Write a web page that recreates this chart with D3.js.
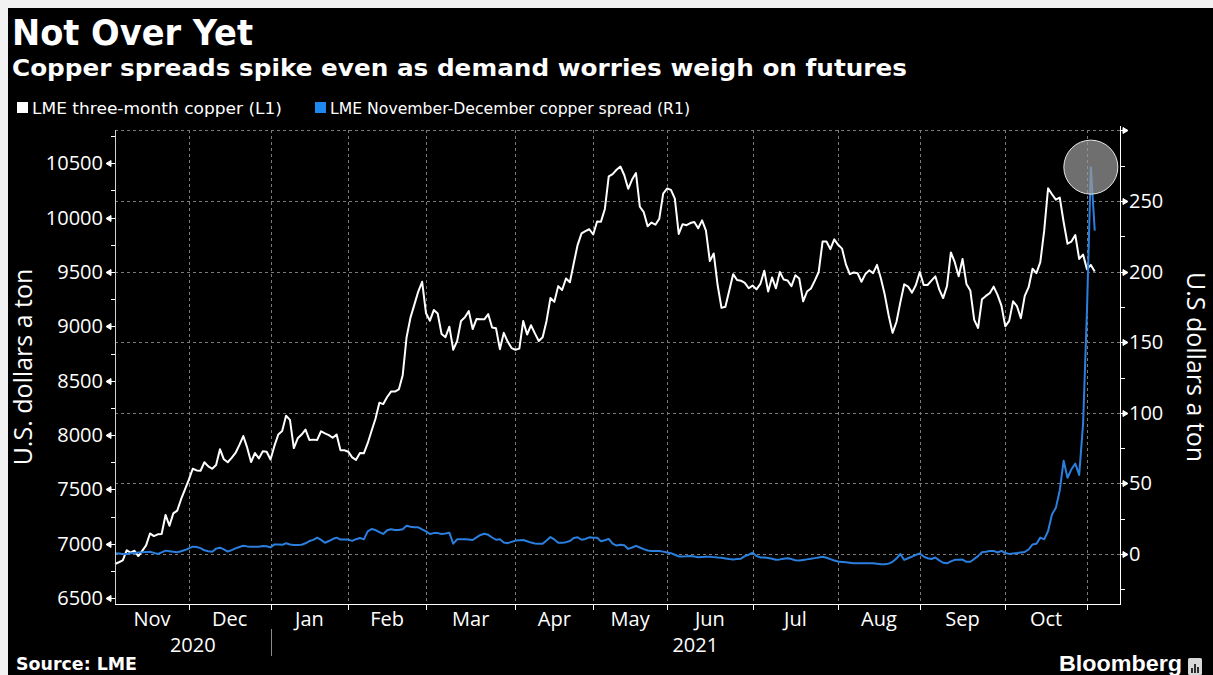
<!DOCTYPE html>
<html>
<head>
<meta charset="utf-8">
<script src="https://cdn.jsdelivr.net/npm/d3@7"></script>
<style>
  body { margin: 0; background: #f2f2f2; }
  svg { display: block; }
</style>
</head>
<body>
<svg id="chart"></svg>
<script>
// LME three-month copper, USD/ton, one value per trading day (4 Nov 2020 .. 3 Nov 2021)
var copper = [
  6814, 6830, 6848, 6940, 6918, 6936, 6887, 6935, 6985, 7095,
  7071, 7087, 7090, 7265, 7166, 7280, 7305, 7410, 7500, 7590,
  7690, 7675, 7672, 7750, 7712, 7690, 7724, 7870, 7777, 7750,
  7790, 7835, 7910, 7991, 7884, 7752, 7835, 7785, 7850, 7847,
  7775, 7900, 8005, 8037, 8178, 8140, 7880, 7970, 8005, 8050,
  7955, 7958, 7955, 8035, 8015, 8000, 7975, 8005, 7860, 7860,
  7847, 7795, 7772, 7835, 7832, 7925, 8040, 8150, 8298, 8285,
  8350, 8400, 8400, 8420, 8550, 8900, 9080, 9200, 9320, 9410,
  9120, 9052, 9150, 9118, 8930, 8900, 8997, 8785, 8865, 9050,
  9083, 9140, 8975, 9068, 9066, 9065, 9112, 8990, 8982, 8790,
  8940, 8860, 8800, 8785, 8795, 9050, 8925, 9010, 8935, 8865,
  8900, 9050, 9260, 9225, 9370, 9334, 9440, 9405, 9580, 9750,
  9855, 9875, 9893, 9845, 9965, 9963, 10080, 10380, 10400, 10440,
  10470, 10390, 10265, 10350, 10410, 10100, 10050, 9920, 9955, 9935,
  9990, 10220, 10268, 10255, 10175, 9850, 9940, 9930, 9950, 9960,
  9902, 9975, 9880, 9600, 9670, 9380, 9170, 9180, 9330, 9480,
  9426, 9420, 9400, 9350, 9375, 9340, 9390, 9512, 9320, 9450,
  9350, 9500, 9430, 9422, 9370, 9470, 9440, 9230, 9320, 9348,
  9420, 9500, 9780, 9780, 9710, 9800, 9750, 9715, 9570, 9480,
  9495, 9488, 9410, 9480, 9515, 9490, 9565, 9440, 9290, 9100,
  8940, 9040, 9220, 9387, 9365, 9310, 9380, 9500, 9380, 9380,
  9420, 9460, 9340, 9260, 9370, 9680, 9590, 9460, 9620, 9390,
  9330, 9060, 8985, 9250, 9280, 9305, 9365, 9290, 9190, 9000,
  9050, 9230, 9185, 9075, 9280, 9360, 9530, 9490, 9590, 9880,
  10270, 10215, 10165, 10185, 9960, 9760, 9780, 9840, 9620, 9660,
  9525, 9565, 9505
];

// LME November-December copper spread, USD/ton, same trading days
var spread = [
  0.5, 0.3, 0, 0, 0.5, 0.8, 1, 1.2, 1.5, 1.6,
  0.8, 0, 1.2, 2.4, 2, 1.6, 1.2, 2, 2.8, 4,
  5.2, 5, 4.2, 2.6, 2, 1.6, 3.8, 4.5, 3.3, 1.7,
  2.8, 4, 5, 5.9, 5.4, 5.2, 5.2, 5.2, 5.7, 5.5,
  4.7, 6.8, 6.8, 6.5, 7.6, 6.8, 6.4, 6.4, 6.6, 7.6,
  9.2, 10, 11.6, 10, 8, 9.2, 10.6, 11.6, 10.2, 10.2,
  10.2, 9.3, 10.5, 11.3, 10.4, 16, 17.7, 17, 15.5, 14.2,
  16.8, 17.5, 17, 17, 17.6, 20, 19.3, 18.9, 18.9, 17.5,
  16, 14.2, 14.8, 14.8, 14.2, 14.6, 15.1, 7.3, 10.4, 10.4,
  10.4, 10.2, 9.9, 11.8, 13.5, 14.4, 13.6, 11.7, 10.1, 10.4,
  8.2, 7.7, 8.6, 9.5, 9.7, 9.9, 9, 8.1, 7.5, 7.2,
  7.2, 9.5, 12, 10.3, 8, 7.9, 8.4, 9.2, 11.4, 11.8,
  10.1, 10.7, 11.8, 11.6, 11.5, 9.1, 9.8, 10.7, 7.3, 6,
  6.6, 6.2, 3.6, 4.6, 5.8, 4.6, 3.5, 2.5, 2.1, 2.1,
  2.1, 1.7, 1.1, 0.6, -0.5, -1.7, -1.7, -1.6, -1.4, -1.8,
  -2.3, -2.1, -1.9, -1.9, -2.2, -2.5, -2.7, -3.1, -3.6, -3.8,
  -3.5, -3.3, -1.5, -0.5, 0.9, -1.4, -2.4, -2.5, -2.8, -3.4,
  -4.1, -3.8, -3.4, -3, -3.6, -4.4, -4.6, -4.2, -3.8, -3.4,
  -2.9, -2.4, -2, -2.6, -3.6, -4.6, -5.3, -5.6, -5.9, -6.2,
  -6.5, -6.6, -6.6, -6.6, -6.6, -6.6, -6.9, -7.2, -7.2, -6.8,
  -5.5, -3.2, 0, -4.2, -3, -1.8, -0.6, 0.4, -1.8, -3,
  -3.5, -2.5, -4.5, -6.2, -6.6, -5.2, -4.1, -4, -3.9, -5.5,
  -5.5, -3.5, -1.5, 1.2, 1.6, 2.2, 2.2, 1.1, 2.2, 0.7,
  0.1, 0.4, 0.7, 1.1, 1.5, 3.2, 6.8, 7.3, 11.6, 10.4,
  16.3, 28, 32.7, 45, 66, 54, 60, 64, 56, 92,
  172, 274, 229
];

// month labels and the trading-day index where each month begins (last = Nov 2021)
var monthNames = ["Nov", "Dec", "Jan", "Feb", "Mar", "Apr", "May", "Jun", "Jul", "Aug", "Sep", "Oct"];
var monthStarts = [0, 19, 40, 60, 80, 103, 123, 142, 164, 186, 207, 229, 250];
var yearNames = ["2020", "2021"];
var yearStarts = [0, 40];

var leftTicks = [6500, 7000, 7500, 8000, 8500, 9000, 9500, 10000, 10500];
var leftMinor = [6750, 7250, 7750, 8250, 8750, 9250, 9750, 10250, 10750];
var rightTicks = [0, 50, 100, 150, 200, 250];
var rightMinor = [-25, 25, 75, 125, 175, 225, 275];
var rightTop = 300;

var legendNames = ["LME three-month copper (L1)", "LME November-December copper spread (R1)"];

var screen = { width: 1213, height: 675 };
var plot = { left: 115, right: 1120, top: 130, bottom: 604 };

var titleFont = "'DejaVu Sans', sans-serif";
var labelFont = "'Open Sans', 'Noto Sans', sans-serif";
var blue = "#2b7fdf";

var svg = d3.select("#chart")
  .attr("width", screen.width)
  .attr("height", screen.height);

// black panel
svg.append("rect")
  .attr("x", 8).attr("y", 8)
  .attr("width", screen.width - 8)
  .attr("height", screen.height - 8)
  .attr("fill", "#000");

// scales
var x = d3.scaleLinear().domain([0, 258.5]).range([plot.left, plot.right]);
var yL = d3.scaleLinear().domain([6446, 10806]).range([plot.bottom, plot.top]);
var yR = d3.scaleLinear().domain([-35.4, 300.3]).range([plot.bottom, plot.top]);

// titles
svg.append("text")
  .attr("x", 12).attr("y", 45)
  .attr("font-family", titleFont).attr("font-weight", "bold").attr("font-size", 35)
  .attr("fill", "#fff")
  .attr("textLength", 241).attr("lengthAdjust", "spacingAndGlyphs")
  .text("Not Over Yet");

svg.append("text")
  .attr("x", 12).attr("y", 76)
  .attr("font-family", titleFont).attr("font-weight", "bold").attr("font-size", 23)
  .attr("fill", "#fff")
  .attr("textLength", 895).attr("lengthAdjust", "spacingAndGlyphs")
  .text("Copper spreads spike even as demand worries weigh on futures");

// legend
var legendX = [17, 315];
var legendW = [250, 360];
var legendColors = ["#fff", "#1e88f0"];
var legend = svg.append("g").selectAll("g")
  .data(legendNames)
  .join("g")
  .attr("transform", (d, i) => `translate(${legendX[i]},0)`);
legend.append("rect")
  .attr("x", 0).attr("y", 102).attr("width", 11).attr("height", 11)
  .attr("fill", (d, i) => legendColors[i]);
legend.append("text")
  .attr("x", 15).attr("y", 114)
  .attr("font-family", titleFont).attr("font-size", 16)
  .attr("fill", "#fff")
  .attr("textLength", (d, i) => legendW[i]).attr("lengthAdjust", "spacingAndGlyphs")
  .text(d => d);

// grid
var grid = svg.append("g")
  .attr("stroke", "#7a7a7a")
  .attr("stroke-width", 1)
  .attr("stroke-dasharray", "3,3");
grid.selectAll("line.h")
  .data(rightTicks.concat([rightTop]))
  .join("line")
  .attr("class", "h")
  .attr("x1", plot.left).attr("x2", plot.right)
  .attr("y1", d => Math.round(yR(d)) + 0.5).attr("y2", d => Math.round(yR(d)) + 0.5);
grid.selectAll("line.v")
  .data(monthStarts.slice(1))
  .join("line")
  .attr("class", "v")
  .attr("x1", d => Math.round(x(d)) + 0.5).attr("x2", d => Math.round(x(d)) + 0.5)
  .attr("y1", plot.top).attr("y2", plot.bottom);

// series
var line = function(yScale) {
  return d3.line()
    .x((d, i) => x(i))
    .y(d => yScale(d));
};

svg.append("path")
  .datum(copper)
  .attr("d", line(yL))
  .attr("fill", "none")
  .attr("stroke", "#fff")
  .attr("stroke-width", 2)
  .attr("stroke-linejoin", "round");

svg.append("path")
  .datum(spread)
  .attr("d", line(yR))
  .attr("fill", "none")
  .attr("stroke", blue)
  .attr("stroke-width", 2)
  .attr("stroke-linejoin", "round");

// highlight on the spread peak
var peak = d3.maxIndex(spread);
svg.append("circle")
  .attr("cx", x(peak)).attr("cy", yR(spread[peak]))
  .attr("r", 27)
  .attr("fill", "#9a9a9a").attr("fill-opacity", 0.72)
  .attr("stroke", "#e8e8e8").attr("stroke-width", 1);

// axis lines
svg.append("line")
  .attr("x1", plot.left + 0.5).attr("x2", plot.left + 0.5)
  .attr("y1", plot.top).attr("y2", plot.bottom)
  .attr("stroke", "#cfcfcf");
svg.append("line")
  .attr("x1", plot.right + 0.5).attr("x2", plot.right + 0.5)
  .attr("y1", plot.top - 4).attr("y2", plot.bottom)
  .attr("stroke", "#fff");
svg.append("line")
  .attr("x1", plot.left).attr("x2", plot.right + 1)
  .attr("y1", plot.bottom + 0.5).attr("y2", plot.bottom + 0.5)
  .attr("stroke", "#fff");

// left axis
var leftAxis = svg.append("g")
  .attr("transform", `translate(${plot.left},0)`)
  .call(d3.axisLeft(yL).tickValues(leftTicks).tickFormat(d3.format("d")).tickSize(0).tickPadding(12));
leftAxis.select(".domain").remove();
leftAxis.selectAll("text")
  .attr("fill", "#fff").attr("font-family", labelFont).attr("font-size", 20);

svg.append("g").selectAll("path")
  .data(leftTicks)
  .join("path")
  .attr("d", d => {
    var y = Math.round(yL(d)) + 0.5;
    return `M${plot.left},${y}H${plot.left - 4}M${plot.left - 4},${y - 3}L${plot.left - 9},${y}L${plot.left - 4},${y + 3}Z`;
  })
  .attr("fill", "#fff").attr("stroke", "#fff").attr("stroke-width", 1);

svg.append("g").selectAll("line")
  .data(leftMinor)
  .join("line")
  .attr("x1", plot.left).attr("x2", plot.left - 4)
  .attr("y1", d => Math.round(yL(d)) + 0.5).attr("y2", d => Math.round(yL(d)) + 0.5)
  .attr("stroke", "#fff");

// right axis
var rightAxis = svg.append("g")
  .attr("transform", `translate(${plot.right},0)`)
  .call(d3.axisRight(yR).tickValues(rightTicks).tickSize(0).tickPadding(9));
rightAxis.select(".domain").remove();
rightAxis.selectAll("text")
  .attr("fill", "#fff").attr("font-family", labelFont).attr("font-size", 20);

svg.append("g").selectAll("path")
  .data(rightTicks.concat([rightTop]))
  .join("path")
  .attr("d", d => {
    var y = Math.round(yR(d)) + 0.5;
    return `M${plot.right},${y}H${plot.right + 3}M${plot.right + 3},${y - 3}L${plot.right + 8},${y}L${plot.right + 3},${y + 3}Z`;
  })
  .attr("fill", "#fff").attr("stroke", "#fff").attr("stroke-width", 1);

svg.append("g").selectAll("line")
  .data(rightMinor)
  .join("line")
  .attr("x1", plot.right).attr("x2", plot.right + 5)
  .attr("y1", d => Math.round(yR(d)) + 0.5).attr("y2", d => Math.round(yR(d)) + 0.5)
  .attr("stroke", "#fff");

// axis titles
svg.append("text")
  .attr("transform", `translate(32,${(plot.top + plot.bottom) / 2}) rotate(-90)`)
  .attr("text-anchor", "middle")
  .attr("font-family", labelFont).attr("font-size", 25)
  .attr("fill", "#fff")
  .text("U.S. dollars a ton");

svg.append("text")
  .attr("transform", `translate(1187,${(plot.top + plot.bottom) / 2}) rotate(90)`)
  .attr("text-anchor", "middle")
  .attr("font-family", labelFont).attr("font-size", 25)
  .attr("fill", "#fff")
  .text("U.S dollars a ton");

// x axis: month ticks and labels
svg.append("g").selectAll("line")
  .data(monthStarts.slice(1))
  .join("line")
  .attr("x1", d => Math.round(x(d)) + 0.5).attr("x2", d => Math.round(x(d)) + 0.5)
  .attr("y1", plot.bottom).attr("y2", plot.bottom + 6)
  .attr("stroke", "#fff");

svg.append("g").selectAll("text")
  .data(monthNames)
  .join("text")
  .attr("x", (d, i) => x((monthStarts[i] + monthStarts[i + 1]) / 2))
  .attr("y", 626)
  .attr("text-anchor", "middle")
  .attr("font-family", labelFont).attr("font-size", 20)
  .attr("fill", "#fff")
  .text(d => d);

var yearEnds = [yearStarts[1], x.domain()[1]];
svg.append("g").selectAll("text")
  .data(yearNames)
  .join("text")
  .attr("x", (d, i) => x((yearStarts[i] + yearEnds[i]) / 2))
  .attr("y", 652)
  .attr("text-anchor", "middle")
  .attr("font-family", labelFont).attr("font-size", 20)
  .attr("fill", "#fff")
  .text(d => d);

svg.append("line")
  .attr("x1", Math.round(x(yearStarts[1])) + 0.5).attr("x2", Math.round(x(yearStarts[1])) + 0.5)
  .attr("y1", 629).attr("y2", 656)
  .attr("stroke", "#8a8a8a");

// footer
svg.append("text")
  .attr("x", 16).attr("y", 670)
  .attr("font-family", titleFont).attr("font-weight", "bold").attr("font-size", 17)
  .attr("fill", "#fff")
  .attr("textLength", 121).attr("lengthAdjust", "spacingAndGlyphs")
  .text("Source: LME");

svg.append("text")
  .attr("x", 1059).attr("y", 671)
  .attr("font-family", "'Liberation Sans', Arial, sans-serif").attr("font-weight", "bold").attr("font-size", 22)
  .attr("fill", "#fff")
  .attr("textLength", 123).attr("lengthAdjust", "spacingAndGlyphs")
  .text("Bloomberg");

var logo = svg.append("g").attr("transform", "translate(1188,658)");
logo.append("rect").attr("width", 14).attr("height", 17).attr("rx", 1.5).attr("fill", "#d8d8d8");
logo.selectAll("line.bar")
  .data([4, 7, 10])
  .join("line")
  .attr("x1", d => d).attr("x2", d => d)
  .attr("y1", (d, i) => [10, 6, 9][i]).attr("y2", 15)
  .attr("stroke", "#000").attr("stroke-width", 1.6);
</script>
</body>
</html>
